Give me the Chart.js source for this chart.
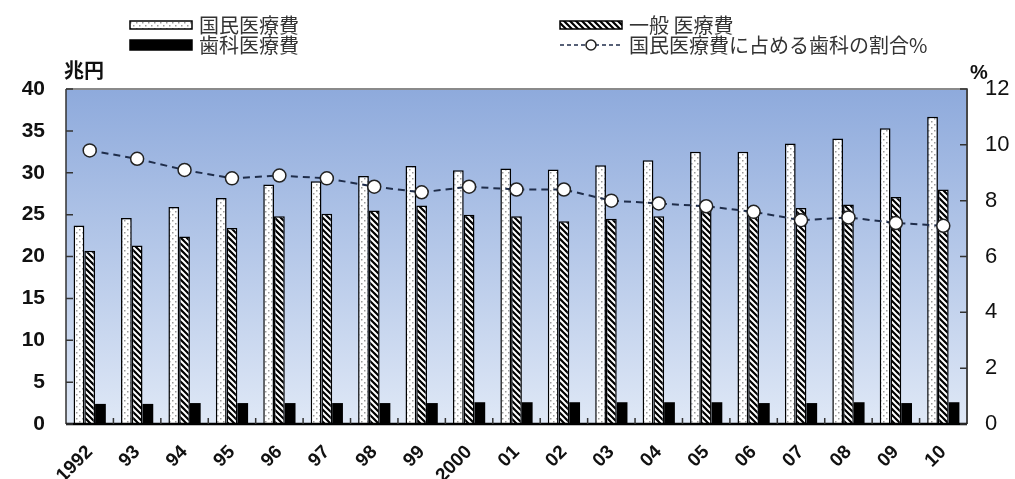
<!DOCTYPE html>
<html>
<head>
<meta charset="utf-8">
<script src="https://cdn.jsdelivr.net/npm/chart.js@4/dist/chart.umd.min.js"></script>
<style>
  html, body { margin: 0; padding: 0; background: #fff; }
  #wrap { width: 1015px; height: 479px; }
</style>
</head>
<body>
<div id="wrap"><canvas id="medChart" width="1015" height="479"></canvas></div>
<script>
var years = ['1992', '93', '94', '95', '96', '97', '98', '99', '2000', '01', '02', '03', '04', '05', '06', '07', '08', '09', '10'];
var nationalCost = [23.7, 24.6, 25.9, 27.0, 28.6, 29.0, 29.6, 30.8, 30.3, 30.5, 30.4, 30.9, 31.5, 32.5, 32.5, 33.5, 34.1, 35.3, 36.7];
var generalCost = [20.7, 21.3, 22.4, 23.4, 24.8, 25.1, 25.5, 26.1, 25.0, 24.8, 24.2, 24.5, 24.8, 25.7, 25.4, 25.8, 26.2, 27.1, 28.0];
var dentalCost = [2.4, 2.4, 2.5, 2.5, 2.5, 2.5, 2.5, 2.5, 2.6, 2.6, 2.6, 2.6, 2.6, 2.6, 2.5, 2.5, 2.6, 2.5, 2.6];
var dentalShare = [9.8, 9.5, 9.1, 8.8, 8.9, 8.8, 8.5, 8.3, 8.5, 8.4, 8.4, 8.0, 7.9, 7.8, 7.6, 7.3, 7.4, 7.2, 7.1];
var seriesNames = ['国民医療費', '一般 医療費', '歯科医療費', '国民医療費に占める歯科の割合%'];

var jpFont = '"Noto Sans CJK JP", sans-serif';
var numFont = '"Liberation Sans", Arial, sans-serif';

makeDotPattern = function () {
    var c = document.createElement('canvas');
    c.width = 6; c.height = 6;
    var g = c.getContext('2d');
    g.fillStyle = '#ffffff';
    g.fillRect(0, 0, 6, 6);
    g.fillStyle = '#9a9a9a';
    g.fillRect(1, 1, 1.5, 1.5);
    g.fillRect(4, 4, 1.5, 1.5);
    return g.createPattern(c, 'repeat');
}

makeHatchPattern = function () {
    var c = document.createElement('canvas');
    c.width = 6; c.height = 6;
    var g = c.getContext('2d');
    g.fillStyle = '#000000';
    g.fillRect(0, 0, 6, 6);
    g.strokeStyle = '#ffffff';
    g.lineWidth = 2;
    g.beginPath();
    g.moveTo(-1, -1); g.lineTo(7, 7);
    g.moveTo(-4, 2); g.lineTo(4, 10);
    g.moveTo(2, -4); g.lineTo(10, 4);
    g.stroke();
    return g.createPattern(c, 'repeat');
}

var dotFill = makeDotPattern();
var hatchFill = makeHatchPattern();

// background, frame, inner ticks, unit labels and legend
var decorPlugin = {
    id: 'decor',
    beforeDatasetsDraw: function (chart) {
        var a = chart.chartArea, ctx = chart.ctx;
        var grad = ctx.createLinearGradient(0, a.top, 0, a.bottom);
        grad.addColorStop(0, '#8eaadc');
        grad.addColorStop(1, '#dfe8f6');
        ctx.save();
        ctx.fillStyle = grad;
        ctx.fillRect(a.left, a.top, a.right - a.left, a.bottom - a.top);
        ctx.restore();
    },
    afterDraw: function (chart) {
        var a = chart.chartArea, ctx = chart.ctx;
        var y = chart.scales.y, y1 = chart.scales.y1;
        ctx.save();
        // frame
        ctx.strokeStyle = '#8a8a8a';
        ctx.lineWidth = 2;
        ctx.beginPath();
        ctx.moveTo(a.left, a.top); ctx.lineTo(a.right, a.top); ctx.lineTo(a.right, a.bottom);
        ctx.stroke();
        ctx.strokeStyle = '#333';
        ctx.lineWidth = 1.5;
        ctx.beginPath();
        ctx.moveTo(a.left, a.top); ctx.lineTo(a.left, a.bottom);
        ctx.moveTo(a.right, a.top); ctx.lineTo(a.right, a.bottom);
        ctx.stroke();
        ctx.strokeStyle = '#000';
        ctx.lineWidth = 2.5;
        ctx.beginPath();
        ctx.moveTo(a.left, a.bottom); ctx.lineTo(a.right, a.bottom);
        ctx.stroke();
        // inner ticks
        ctx.strokeStyle = '#333';
        ctx.lineWidth = 1.5;
        ctx.beginPath();
        y.ticks.forEach(function (t) {
            var py = y.getPixelForValue(t.value);
            ctx.moveTo(a.left, py); ctx.lineTo(a.left + 7, py);
        });
        y1.ticks.forEach(function (t) {
            var py = y1.getPixelForValue(t.value);
            ctx.moveTo(a.right, py); ctx.lineTo(a.right - 7, py);
        });
        var step = (a.right - a.left) / years.length;
        for (var i = 1; i < years.length; i++) {
            var px = a.left + step * i;
            ctx.moveTo(px, a.bottom); ctx.lineTo(px, a.bottom - 6);
        }
        ctx.stroke();
        // unit labels
        ctx.fillStyle = '#111';
        ctx.font = 'bold 20px ' + jpFont;
        ctx.textBaseline = 'middle';
        ctx.textAlign = 'left';
        ctx.fillText('兆円', 64, 70);
        ctx.font = 'bold 20px ' + numFont;
        ctx.fillText('%', 970, 73);

        // legend
        var items = chart.data.datasets;
        var cols = [
            { x: 130, rows: [items[0], items[2]] },
            { x: 560, rows: [items[1], items[3]] }
        ];
        var rowY = [25, 45];
        ctx.font = '20px ' + jpFont;
        cols.forEach(function (col) {
            col.rows.forEach(function (ds, r) {
                var cy = rowY[r];
                var sx = col.x, sw = 62;
                if (ds.type === 'line') {
                    ctx.strokeStyle = '#1f2d4a';
                    ctx.lineWidth = 1.5;
                    ctx.setLineDash([4, 3]);
                    ctx.beginPath();
                    ctx.moveTo(sx, cy); ctx.lineTo(sx + sw, cy);
                    ctx.stroke();
                    ctx.setLineDash([]);
                    ctx.fillStyle = '#fff';
                    ctx.strokeStyle = '#222';
                    ctx.beginPath();
                    ctx.arc(sx + sw / 2, cy, 5, 0, Math.PI * 2);
                    ctx.fill(); ctx.stroke();
                } else {
                    var h = ds.label === seriesNames[2] ? 10 : 8;
                    ctx.fillStyle = ds.backgroundColor;
                    ctx.fillRect(sx, cy - h / 2, sw, h);
                    ctx.strokeStyle = '#000';
                    ctx.lineWidth = 1.5;
                    ctx.strokeRect(sx, cy - h / 2, sw, h);
                }
                ctx.fillStyle = '#333';
                ctx.fillText(ds.label, sx + sw + 7, cy);
            });
        });
        ctx.restore();
    }
};

var ctx = document.getElementById('medChart');
var medChart = new Chart(ctx, {
    type: 'bar',
    data: {
        labels: years,
        datasets: [{
            label: seriesNames[0],
            data: nationalCost,
            backgroundColor: dotFill,
            borderColor: '#000',
            borderWidth: 1.5,
            yAxisID: 'y',
            order: 1
        }, {
            label: seriesNames[1],
            data: generalCost,
            backgroundColor: hatchFill,
            borderColor: '#000',
            borderWidth: 1.5,
            yAxisID: 'y',
            order: 1
        }, {
            label: seriesNames[2],
            data: dentalCost,
            backgroundColor: '#000000',
            borderColor: '#000',
            borderWidth: 0,
            yAxisID: 'y',
            order: 1
        }, {
            type: 'line',
            label: seriesNames[3],
            data: dentalShare,
            borderColor: '#1f2d4a',
            borderWidth: 2,
            borderDash: [7, 5],
            pointRadius: 6.5,
            pointBackgroundColor: '#ffffff',
            pointBorderColor: '#222',
            pointBorderWidth: 1.5,
            tension: 0,
            yAxisID: 'y1',
            order: 0
        }]
    },
    options: {
        responsive: false,
        animation: false,
        layout: { padding: { top: 89, left: 0, right: 0, bottom: 0 } },
        datasets: { bar: { categoryPercentage: 0.68, barPercentage: 1.0 } },
        plugins: { legend: { display: false }, tooltip: { enabled: false } },
        scales: {
            x: {
                grid: { display: false, drawTicks: false },
                border: { display: false },
                afterFit: function (s) { s.height = 55; },
                ticks: {
                    autoSkip: false,
                    maxRotation: 45,
                    minRotation: 45,
                    padding: 17,
                    color: '#111',
                    font: { family: numFont, size: 19, weight: 'bold' }
                }
            },
            y: {
                position: 'left',
                min: 0, max: 40,
                grid: { display: false, drawTicks: false },
                border: { display: false },
                afterFit: function (s) { s.width = 66; },
                ticks: {
                    stepSize: 5,
                    padding: 21,
                    color: '#111',
                    font: { family: numFont, size: 21, weight: 'bold' }
                }
            },
            y1: {
                position: 'right',
                min: 0, max: 12,
                grid: { display: false, drawTicks: false },
                border: { display: false },
                afterFit: function (s) { s.width = 48; },
                ticks: {
                    stepSize: 2,
                    padding: 18,
                    color: '#111',
                    font: { family: numFont, size: 22 }
                }
            }
        }
    },
    plugins: [decorPlugin]
});
</script>
</body>
</html>
